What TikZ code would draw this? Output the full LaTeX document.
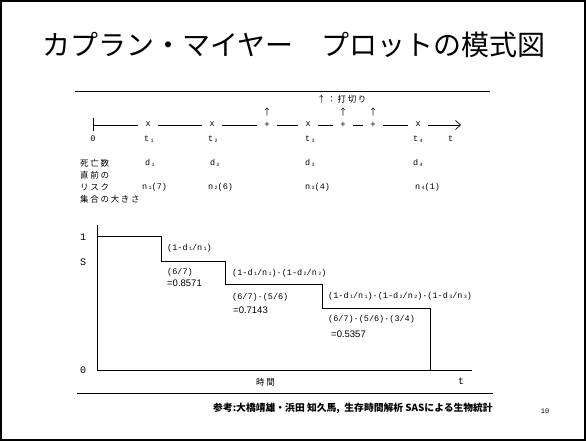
\documentclass[tikz,border=0pt]{standalone}
\usepackage{fontspec}
\setmainfont{Liberation Mono}
\newfontfamily\jp{Noto Sans CJK JP}
\newfontfamily\jpsp[LetterSpace=20]{Noto Sans CJK JP}
\newfontfamily\mono{Liberation Mono}
\newfontfamily\numsans{Liberation Sans}
\usetikzlibrary{arrows.meta}
\newcommand{\lsub}[1]{\,{\fontsize{5}{5}\selectfont\raisebox{-0.6pt}{#1}}}
\begin{document}
\begin{tikzpicture}[x=1pt,y=-1pt,
  lbl/.style={font=\mono\fontsize{8.5}{9}\selectfont, inner sep=0pt, anchor=west},
  axl/.style={font=\mono\fontsize{10}{10}\selectfont, inner sep=0pt},
  val/.style={font=\numsans\fontsize{9.5}{10}\selectfont, inner sep=0pt, anchor=west},
  jlbl/.style={font=\jpsp\fontsize{8.5}{9}\selectfont, inner sep=0pt, anchor=west},
  mk/.style={font=\mono\fontsize{9}{9}\selectfont, inner sep=7pt},
  rule/.style={line width=0.8pt},
  ln/.style={line width=0.7pt}]
\useasboundingbox (0,0) rectangle (586,441);
\draw[line width=1.8pt] (1,1) rectangle (585,440);
% title
\node[font=\jp\fontsize{28}{30}\selectfont] (title) at (294,45) {カプラン・マイヤー　プロットの模式図};
\coordinate (r1a) at (75,91); \coordinate (r1b) at (490,91);
\draw[rule] (r1a) -- (r1b);
% timeline
\coordinate (o) at (93,125);
\coordinate (otop) at (93,118); \coordinate (obot) at (93,131);
\draw[ln] (otop) -- (obot);
\node[mk] (m1) at (148,124) {x};
\node[mk] (m2) at (212,124) {x};
\node[mk] (c1) at (267,125) {+};
\node[mk] (m3) at (308,124) {x};
\node[mk] (c2) at (343,125) {+};
\node[mk] (c3) at (373,125) {+};
\node[mk] (m4) at (418,124) {x};
\coordinate (tend) at (461,125);
\draw[ln] (o) -- (m1.west |- o);
\draw[ln] (m1.east |- o) -- (m2.west |- o);
\draw[ln] (m2.east |- o) -- (c1.west |- o);
\draw[ln] (c1.east |- o) -- (m3.west |- o);
\draw[ln] (m3.east |- o) -- (c2.west |- o);
\draw[ln] (c2.east |- o) -- (c3.west |- o);
\draw[ln] (c3.east |- o) -- (m4.west |- o);
\draw[ln,-{Straight Barb[length=5pt,width=9pt]}] (m4.east |- o) -- (tend);
% censor arrows
\node[font=\jp\fontsize{9}{9}\selectfont, inner sep=0pt] (u1) at (267,112) {↑};
\node[font=\jp\fontsize{9}{9}\selectfont, inner sep=0pt] (u2) at (343,112) {↑};
\node[font=\jp\fontsize{9}{9}\selectfont, inner sep=0pt] (u3) at (373,112) {↑};
\node[jlbl] (legend) at (317,99) {↑：打切り};
% time labels
\node[lbl, anchor=center] (zero) at (93,139) {0};
\node[lbl] (t1) at (144,139) {t\lsub1};
\node[lbl] (t2) at (208,139) {t\lsub2};
\node[lbl] (t3) at (305,139) {t\lsub3};
\node[lbl] (t4) at (413,139) {t\lsub4};
\node[lbl] (tt) at (448,139) {t};
% left labels
\node[jlbl] (j1) at (80,163) {死亡数};
\node[jlbl] (j2) at (80,175) {直前の};
\node[jlbl] (j3) at (80,187) {リスク};
\node[jlbl] (j4) at (80,199) {集合の大きさ};
\node[lbl] (d1) at (145,163) {d\lsub1};
\node[lbl] (d2) at (210,163) {d\lsub2};
\node[lbl] (d3) at (305,163) {d\lsub3};
\node[lbl] (d4) at (413,163) {d\lsub4};
\node[lbl] (n1) at (142,187) {n\lsub1(7)};
\node[lbl] (n2) at (208,187) {n\lsub2(6)};
\node[lbl] (n3) at (305,187) {n\lsub3(4)};
\node[lbl] (n4) at (415,187) {n\lsub4(1)};
% plot
\coordinate (ytop) at (97,225);
\coordinate (orig) at (97,370);
\coordinate (xend) at (472,370);
\draw[ln] (ytop) -- (orig) -- (xend);
\coordinate (s0) at (97,236);
\coordinate (s1) at (161,236); \coordinate (s1b) at (161,261);
\coordinate (s2) at (225,261); \coordinate (s2b) at (225,284);
\coordinate (s3) at (322,284); \coordinate (s3b) at (322,308);
\coordinate (s4) at (430,308); \coordinate (s4b) at (430,370);
\draw[ln] (s0) -- (s1) -- (s1b) -- (s2) -- (s2b) -- (s3) -- (s3b) -- (s4) -- (s4b);
\node[axl] (one) at (83,237) {1};
\node[axl] (S) at (83,262) {S};
\node[axl] (zy) at (83,370) {0};
\node[lbl] (f1) at (167,248) {(1-d\lsub1/n\lsub1)};
\node[lbl] (v1) at (167,272) {(6/7)};
\node[val] (e1) at (167,283) {=0.8571};
\node[lbl] (f2) at (232,273) {(1-d\lsub1/n\lsub1)·(1-d\lsub2/n\lsub2)};
\node[lbl] (v2) at (232,297) {(6/7)·(5/6)};
\node[val] (e2) at (233,310) {=0.7143};
\node[lbl] (f3) at (328,296) {(1-d\lsub1/n\lsub1)·(1-d\lsub2/n\lsub2)·(1-d\lsub3/n\lsub3)};
\node[lbl] (v3) at (328,319) {(6/7)·(5/6)·(3/4)};
\node[val] (e3) at (331,334) {=0.5357};
\node[jlbl] (jikan) at (256,382) {時間};
\node[axl] (tx) at (461,381) {t};
\coordinate (r2a) at (77,393); \coordinate (r2b) at (493,393);
\draw[rule] (r2a) -- (r2b);
% footnote
\node[font=\jp\bfseries\fontsize{9.8}{10}\selectfont, inner sep=0pt, anchor=west] (ref) at (213,408) {参考:大橋靖雄・浜田 知久馬,\ \ 生存時間解析 SASによる生物統計};
\node[font=\mono\fontsize{7}{8}\selectfont, inner sep=0pt] (pg) at (545,411) {10};
\end{tikzpicture}
\end{document}
